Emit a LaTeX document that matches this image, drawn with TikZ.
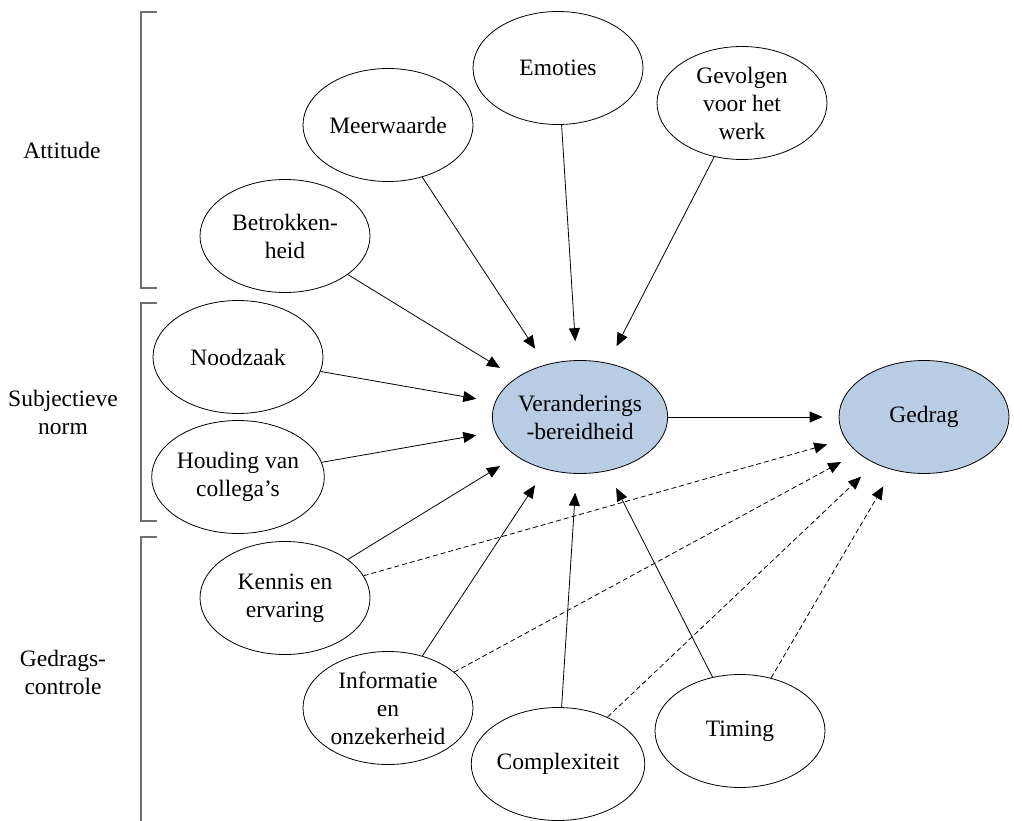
\documentclass[tikz,border=0pt]{standalone}
\usepackage{fontspec}
\setmainfont{Liberation Serif}
\usetikzlibrary{arrows.meta,shapes.geometric}
\definecolor{coreblue}{RGB}{184,204,228}
\definecolor{bracketgray}{RGB}{110,110,110}
\begin{document}
\begin{tikzpicture}[x=1pt,y=-1pt,
  factor/.style={ellipse, draw, line width=0.8pt, minimum width=170pt,
    minimum height=113pt, inner sep=0pt, align=center,
    font=\fontsize{23.5}{28}\selectfont},
  core/.style={factor, fill=coreblue},
  grouplabel/.style={align=center, font=\fontsize{23.5}{28}\selectfont},
  bracket/.style={draw=bracketgray, line width=1.3pt},
  arr/.style={-{Triangle[length=13pt,width=11pt]}, line width=0.8pt, shorten >=19pt},
  darr/.style={arr, dash pattern=on 5pt off 3pt}]

  % canvas
  \path[fill=white] (0,0) rectangle (1014,821);
  \useasboundingbox (0,0) rectangle (1014,821);

  % group labels and brackets
  \node[grouplabel] (lattitude) at (62,150) {Attitude};
  \node[grouplabel] (lsubj) at (63,412) {Subjectieve\\norm};
  \node[grouplabel] (lcontrol) at (63,672) {Gedrags-\\controle};
  \draw[bracket] (157,12) -- (141,12) -- (141,288) -- (157,288);
  \draw[bracket] (157,303) -- (141,303) -- (141,521) -- (157,521);
  \draw[bracket] (157,537) -- (141,537) -- (141,821);

  % factors
  \node[factor] (emo)  at (558,68)  {Emoties};
  \node[factor] (meer) at (388,125) {Meerwaarde};
  \node[factor] (gev)  at (742,103) {Gevolgen\\voor het\\werk};
  \node[factor] (betr) at (285,236) {Betrokken-\\heid};
  \node[factor] (nood) at (238,357) {Noodzaak};
  \node[factor] (houd) at (238,477) {Houding van\\collega’s};
  \node[factor] (kenn) at (285,598) {Kennis en\\ervaring};
  \node[factor] (info) at (388,708) {Informatie\\en\\onzekerheid};
  \node[factor] (comp) at (558,764) {Complexiteit};
  \node[factor] (tim)  at (740,731) {Timing};

  % outcomes
  \node[core] (ver) at (580,417) {Veranderings\\-bereidheid};
  \node[core] (ged) at (924,417) {Gedrag};

  % influences on readiness
  \foreach \src in {emo,meer,gev,betr,nood,houd,kenn,info,comp,tim}
    \draw[arr] (\src) -- (ver);
  \draw[arr, shorten >=16pt] (ver) -- (ged);

  % direct influences on behaviour
  \foreach \src in {kenn,info,comp,tim}
    \draw[darr] (\src) -- (ged);
\end{tikzpicture}
\end{document}
